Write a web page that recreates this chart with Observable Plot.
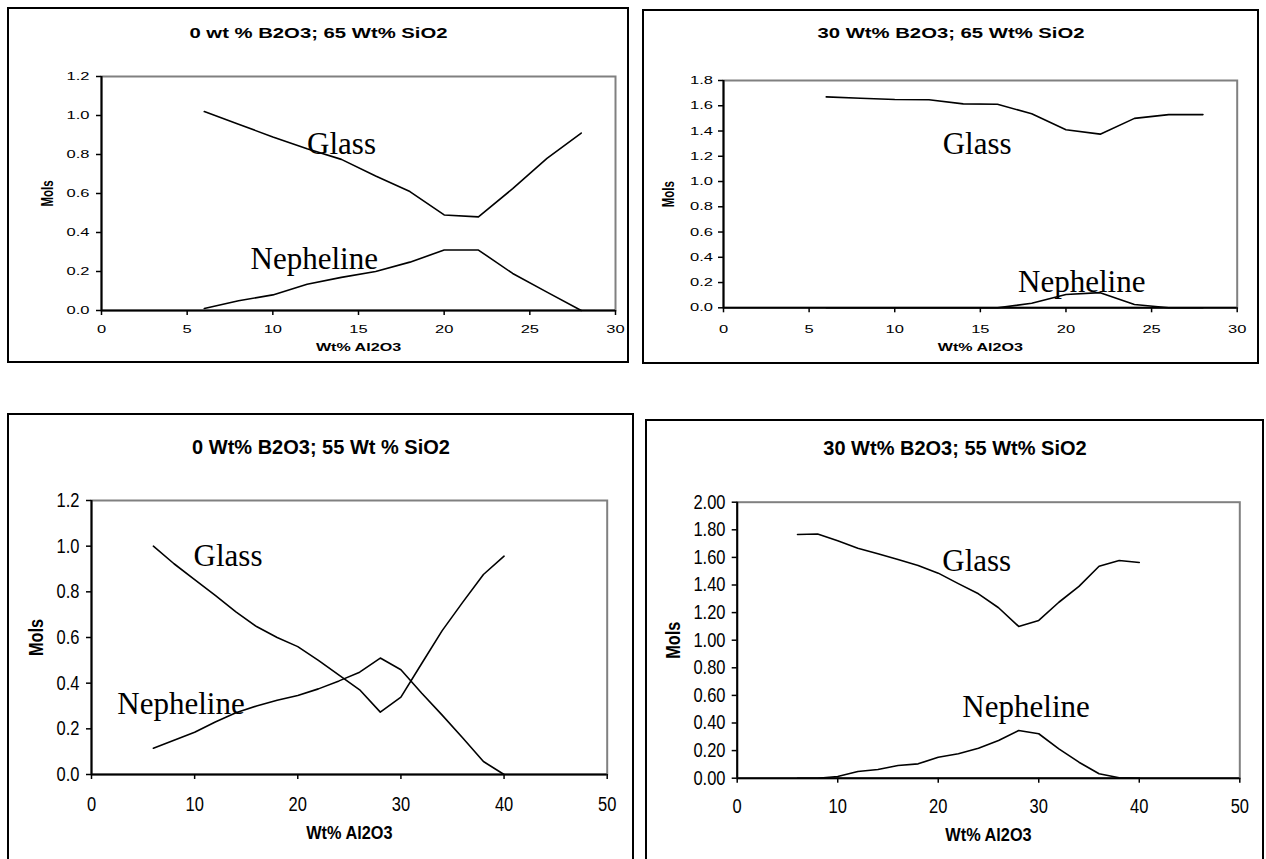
<!DOCTYPE html>
<html><head><meta charset="utf-8">
<script src="https://cdn.jsdelivr.net/npm/d3@7"></script>
<script src="https://cdn.jsdelivr.net/npm/@observablehq/plot@0.6"></script>
<style>
html,body{margin:0;padding:0;background:#fff;overflow:hidden;}
#root{position:relative;width:1266px;height:859px;overflow:hidden;background:#fff;}
.panel{position:absolute;}
.box{position:absolute;border:2px solid #000;box-sizing:border-box;pointer-events:none;}
</style></head><body><div id="root"></div>
<script>
// ---------- data ----------
const xs65 = [6, 8, 10, 12, 14, 16, 18, 20, 22, 24, 26, 28];
const xs55 = [6, 8, 10, 12, 14, 16, 18, 20, 22, 24, 26, 28, 30, 32, 34, 36, 38, 40];

const glassB0Si65 = [1.02, 0.955, 0.89, 0.83, 0.775, 0.69, 0.61, 0.49, 0.48, 0.625, 0.78, 0.91];
const nephB0Si65  = [0.01, 0.05, 0.08, 0.135, 0.17, 0.20, 0.248, 0.31, 0.31, 0.19, 0.094, 0.00];

const glassB30Si65 = [1.67, 1.66, 1.65, 1.647, 1.615, 1.612, 1.536, 1.41, 1.375, 1.50, 1.53, 1.53];
const nephB30Si65  = [0, 0, 0, 0, 0, 0, 0.036, 0.105, 0.12, 0.026, 0.0, 0.0];

const glassB0Si55 = [1.00, 0.923, 0.853, 0.784, 0.712, 0.648, 0.60, 0.56, 0.50, 0.435, 0.371, 0.273, 0.339, 0.485, 0.63, 0.755, 0.876, 0.956];
const nephB0Si55  = [0.115, 0.15, 0.185, 0.23, 0.27, 0.30, 0.325, 0.346, 0.375, 0.41, 0.448, 0.51, 0.459, 0.357, 0.26, 0.16, 0.057, 0.0];

const glassB30Si55 = [1.766, 1.77, 1.72, 1.667, 1.626, 1.585, 1.541, 1.486, 1.41, 1.336, 1.235, 1.10, 1.143, 1.275, 1.39, 1.536, 1.578, 1.563];
const nephB30Si55  = [0, 0, 0.012, 0.049, 0.063, 0.092, 0.104, 0.152, 0.177, 0.217, 0.273, 0.346, 0.322, 0.213, 0.116, 0.032, 0.003, 0.0];

const seriesNames = ["Glass", "Nepheline"];
const titles = ["0 wt % B2O3; 65 Wt% SiO2", "30 Wt% B2O3; 65 Wt% SiO2", "0 Wt% B2O3; 55 Wt % SiO2", "30 Wt% B2O3; 55 Wt% SiO2"];
const xAxisTitle = "Wt% Al2O3";
const yAxisTitle = "Mols";

const xTicks30 = [0, 5, 10, 15, 20, 25, 30];
const xTicks50 = [0, 10, 20, 30, 40, 50];
const yTicks12 = [0, 0.2, 0.4, 0.6, 0.8, 1.0, 1.2];
const yTicks18 = [0, 0.2, 0.4, 0.6, 0.8, 1.0, 1.2, 1.4, 1.6, 1.8];
const yTicks20 = [0, 0.2, 0.4, 0.6, 0.8, 1.0, 1.2, 1.4, 1.6, 1.8, 2.0];

// series label anchors (data units)
const glassLabelX = [12.0, 12.8, 9.9, 20.4];
const glassLabelY = [0.805, 1.22, 0.912, 1.505];
const nephLabelX  = [8.7, 17.2, 2.5, 22.4];
const nephLabelY  = [0.215, 0.124, 0.266, 0.442];

// ---------- layout / style ----------
const panels = [
  {xs: xs65, glass: glassB0Si65, neph: nephB0Si65, xTicks: xTicks30, yTicks: yTicks12, yFmt: ".1f",
   box: {left: 7, top: 7, w: 622, h: 356}, m: {l: 94, r: 14, t: 69, b: 53},
   titleDy: -43, yLabDx: -54, xLabDy: 37, tickPadX: 10, tickPadY: 7,
   tickFont: 11, tickS: [1.5, 1], titleFont: 14, titleS: [1.45, 1],
   labFont: 11.5, xLabS: [1.4, 1], yLabS: [1.4, 1]},
  {xs: xs65, glass: glassB30Si65, neph: nephB30Si65, xTicks: xTicks30, yTicks: yTicks18, yFmt: ".1f",
   box: {left: 642, top: 9, w: 617, h: 355}, m: {l: 81, r: 22.3, t: 71, b: 56.7},
   titleDy: -47, yLabDx: -55, xLabDy: 39.4, tickPadX: 12, tickPadY: 5.5,
   tickFont: 11, tickS: [1.5, 1], titleFont: 14, titleS: [1.45, 1],
   labFont: 11.5, xLabS: [1.4, 1], yLabS: [1.4, 1]},
  {xs: xs55, glass: glassB0Si55, neph: nephB0Si55, xTicks: xTicks50, yTicks: yTicks12, yFmt: ".1f",
   box: {left: 7, top: 413, w: 627, h: 470}, m: {l: 84, r: 27.3, t: 87, b: 109},
   titleDy: -53.3, yLabDx: -54.5, xLabDy: 59, tickPadX: 17, tickPadY: 7,
   tickFont: 16.5, tickS: [1, 1.2], titleFont: 20, titleS: [1, 1],
   labFont: 16.3, xLabS: [1, 1.1], yLabS: [1.24, 1]},
  {xs: xs55, glass: glassB30Si55, neph: nephB30Si55, xTicks: xTicks50, yTicks: yTicks20, yFmt: ".2f",
   box: {left: 645, top: 419, w: 619, h: 470}, m: {l: 91.7, r: 24.7, t: 82.7, b: 111.3},
   titleDy: -53.4, yLabDx: -63.4, xLabDy: 57.3, tickPadX: 15.5, tickPadY: 6.7,
   tickFont: 16.5, tickS: [1, 1.2], titleFont: 20, titleS: [1, 1],
   labFont: 16.3, xLabS: [1, 1.1], yLabS: [1.24, 1]}
];

const SANS = "'Liberation Sans', Arial, Helvetica, sans-serif";
const SERIF = "'Liberation Serif', 'Times New Roman', Times, serif";

// widen/narrow sans-serif texts around their anchor (the source chart's text is non-uniformly scaled)
function stretchAll(svg, byLabel, byText) {
  svg.querySelectorAll("text").forEach(el => {
    const g = el.closest("g[aria-label]");
    const lab = g ? g.getAttribute("aria-label") : "";
    const s = byLabel[lab] || byText[el.textContent];
    if (!s || (s[0] === 1 && s[1] === 1)) return;
    let t = el.getAttribute("transform");
    if (!t) {
      const x = parseFloat(el.getAttribute("x")) || 0;
      el.removeAttribute("x");
      t = `translate(${x},0)`;
    }
    const m = t.match(/^\s*translate\([^)]*\)/);
    const head = m ? m[0] : "";
    const rest = m ? t.slice(m[0].length) : t;
    el.setAttribute("transform", `${head} scale(${s[0]},${s[1]})${rest}`);
  });
}

const root = document.getElementById("root");

panels.forEach((p, i) => {
  const rows = [];
  p.xs.forEach((x, k) => {
    rows.push({x, y: p.glass[k], series: seriesNames[0]});
    rows.push({x, y: p.neph[k], series: seriesNames[1]});
  });
  const notes = [
    {x: glassLabelX[i], y: glassLabelY[i], label: seriesNames[0]},
    {x: nephLabelX[i], y: nephLabelY[i], label: seriesNames[1]}
  ];
  const xMax = p.xTicks[p.xTicks.length - 1];
  const yMax = p.yTicks[p.yTicks.length - 1];
  const fmt = d3.format(p.yFmt);

  const svg = Plot.plot({
    width: p.box.w, height: p.box.h,
    marginLeft: p.m.l, marginRight: p.m.r, marginTop: p.m.t, marginBottom: p.m.b,
    style: {fontFamily: SANS, fontSize: p.tickFont + "px", color: "#000", background: "transparent", overflow: "visible"},
    x: {domain: [0, xMax]},
    y: {domain: [0, yMax]},
    marks: [
      Plot.frame({stroke: "#808080", strokeWidth: 2}),
      Plot.line(rows, {x: "x", y: "y", z: "series", stroke: "#000", strokeWidth: 1.6, strokeLinejoin: "round"}),
      Plot.ruleX([0], {stroke: "#000", strokeWidth: 2}),
      Plot.ruleY([0], {stroke: "#000", strokeWidth: 2}),
      Plot.axisX({ticks: p.xTicks, tickFormat: d3.format("d"), tickSize: 5, tickPadding: p.tickPadX,
                  label: null, stroke: "#000", strokeWidth: 1.5, fontSize: p.tickFont, fill: "#000"}),
      Plot.axisY({ticks: p.yTicks, tickFormat: fmt, tickSize: 5, tickPadding: p.tickPadY,
                  label: null, stroke: "#000", strokeWidth: 1.5, fontSize: p.tickFont, fill: "#000"}),
      Plot.text(notes, {x: "x", y: "y", text: "label", fontFamily: SERIF, fontSize: 31,
                        textAnchor: "start", lineAnchor: "bottom", fill: "#000"}),
      Plot.text([titles[i]], {frameAnchor: "top", text: d => d, dx: (p.m.r - p.m.l) / 2, dy: p.titleDy,
                        fontWeight: "bold", fontSize: p.titleFont, lineAnchor: "middle", fill: "#000"}),
      Plot.text([yAxisTitle], {frameAnchor: "left", text: d => d, rotate: -90, dx: p.yLabDx,
                        fontWeight: "bold", fontSize: p.labFont, lineAnchor: "middle", textAnchor: "middle", fill: "#000"}),
      Plot.text([xAxisTitle], {frameAnchor: "bottom", text: d => d, dy: p.xLabDy,
                        fontWeight: "bold", fontSize: p.labFont, lineAnchor: "middle", textAnchor: "middle", fill: "#000"})
    ]
  });

  stretchAll(svg,
    {"x-axis tick label": p.tickS, "y-axis tick label": p.tickS},
    {[titles[i]]: p.titleS, [yAxisTitle]: p.yLabS, [xAxisTitle]: p.xLabS});

  const wrap = document.createElement("div");
  wrap.className = "panel";
  wrap.style.left = p.box.left + "px";
  wrap.style.top = p.box.top + "px";
  wrap.style.width = p.box.w + "px";
  wrap.style.height = p.box.h + "px";
  wrap.appendChild(svg);
  svg.style.display = "block";
  root.appendChild(wrap);

  const box = document.createElement("div");
  box.className = "box";
  box.style.left = p.box.left + "px";
  box.style.top = p.box.top + "px";
  box.style.width = p.box.w + "px";
  box.style.height = p.box.h + "px";
  root.appendChild(box);
});
</script>
</body></html>
